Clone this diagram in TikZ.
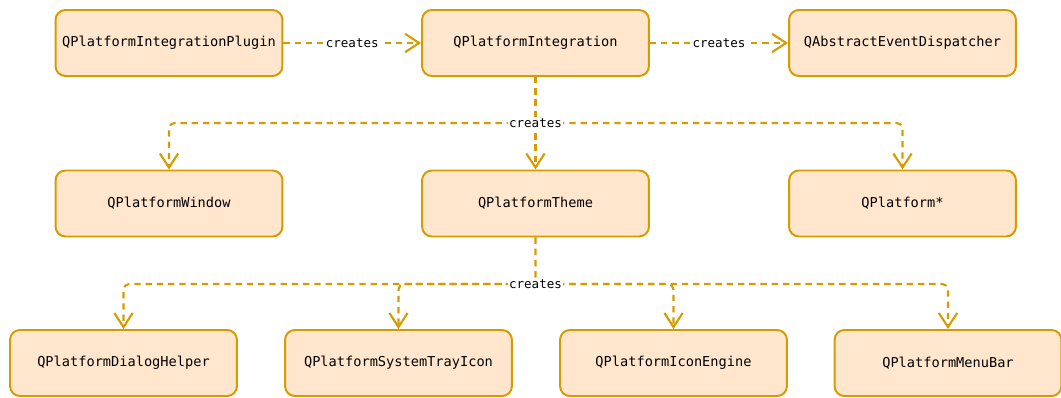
\documentclass[tikz,border=0pt]{standalone}
\usepackage{fontspec}
\setmonofont{DejaVu Sans Mono}
\usetikzlibrary{positioning,arrows.meta}
\definecolor{boxfill}{HTML}{FFE6CC}
\definecolor{boxline}{HTML}{D79B00}
\tikzstyle{cls}=[draw=boxline, fill=boxfill, line width=1.4pt, rounded corners=7pt,
  minimum width=5.67cm, minimum height=1.65cm, font=\ttfamily\fontsize{9.7}{11}\selectfont]
\tikzstyle{creates}=[boxline, line width=1.5pt, dash pattern=on 4.5pt off 3.5pt,
  -{Straight Barb[length=10pt,width=13pt,line width=1.5pt]}, rounded corners=4pt]
\tikzstyle{lbl}=[fill=white, inner sep=1pt, text=black, font=\ttfamily\fontsize{8.9}{10}\selectfont]

\begin{document}
\begin{tikzpicture}[x=0.025cm, y=-0.025cm]
        \useasboundingbox (0,0) rectangle (1061,398);

        % top row
        \node[cls] (plugin) at (169,43) {QPlatformIntegrationPlugin};
        \node[cls] (integ) at (535.5,43) {QPlatformIntegration};
        \node[cls] (dispatch) at (902.5,43) {QAbstractEventDispatcher};

        % made by the integration
        \node[cls] (window) at (169,203.5) {QPlatformWindow};
        \node[cls] (theme) at (535.5,203.5) {QPlatformTheme};
        \node[cls] (other) at (902.5,203.5) {QPlatform*};

        % made by the theme
        \node[cls] (dialog) at (123.5,363) {QPlatformDialogHelper};
        \node[cls] (tray) at (398.5,363) {QPlatformSystemTrayIcon};
        \node[cls] (icon) at (673.5,363) {QPlatformIconEngine};
        \node[cls] (menubar) at (948,363) {QPlatformMenuBar};

        \coordinate (j1) at (535.5,123);
        \coordinate (j2) at (535.5,284);

        \draw[creates] (plugin) -- node[lbl] {creates} (integ);
        \draw[creates] (integ) -- node[lbl] {creates} (dispatch);

        % trunk goes straight down, side branches leave from the joint
        \draw[creates] (integ) -- (theme);
        \draw[creates] (j1) -| (window);
        \draw[creates] (j1) -| (other);
        \node[lbl] at (j1) {creates};

        \draw[creates] (theme) -- (j2) -| (dialog);
        \draw[creates] (j2) -| (tray);
        \draw[creates] (j2) -| (icon);
        \draw[creates] (j2) -| (menubar);
        \node[lbl] at (j2) {creates};
    \end{tikzpicture}
\end{document}
